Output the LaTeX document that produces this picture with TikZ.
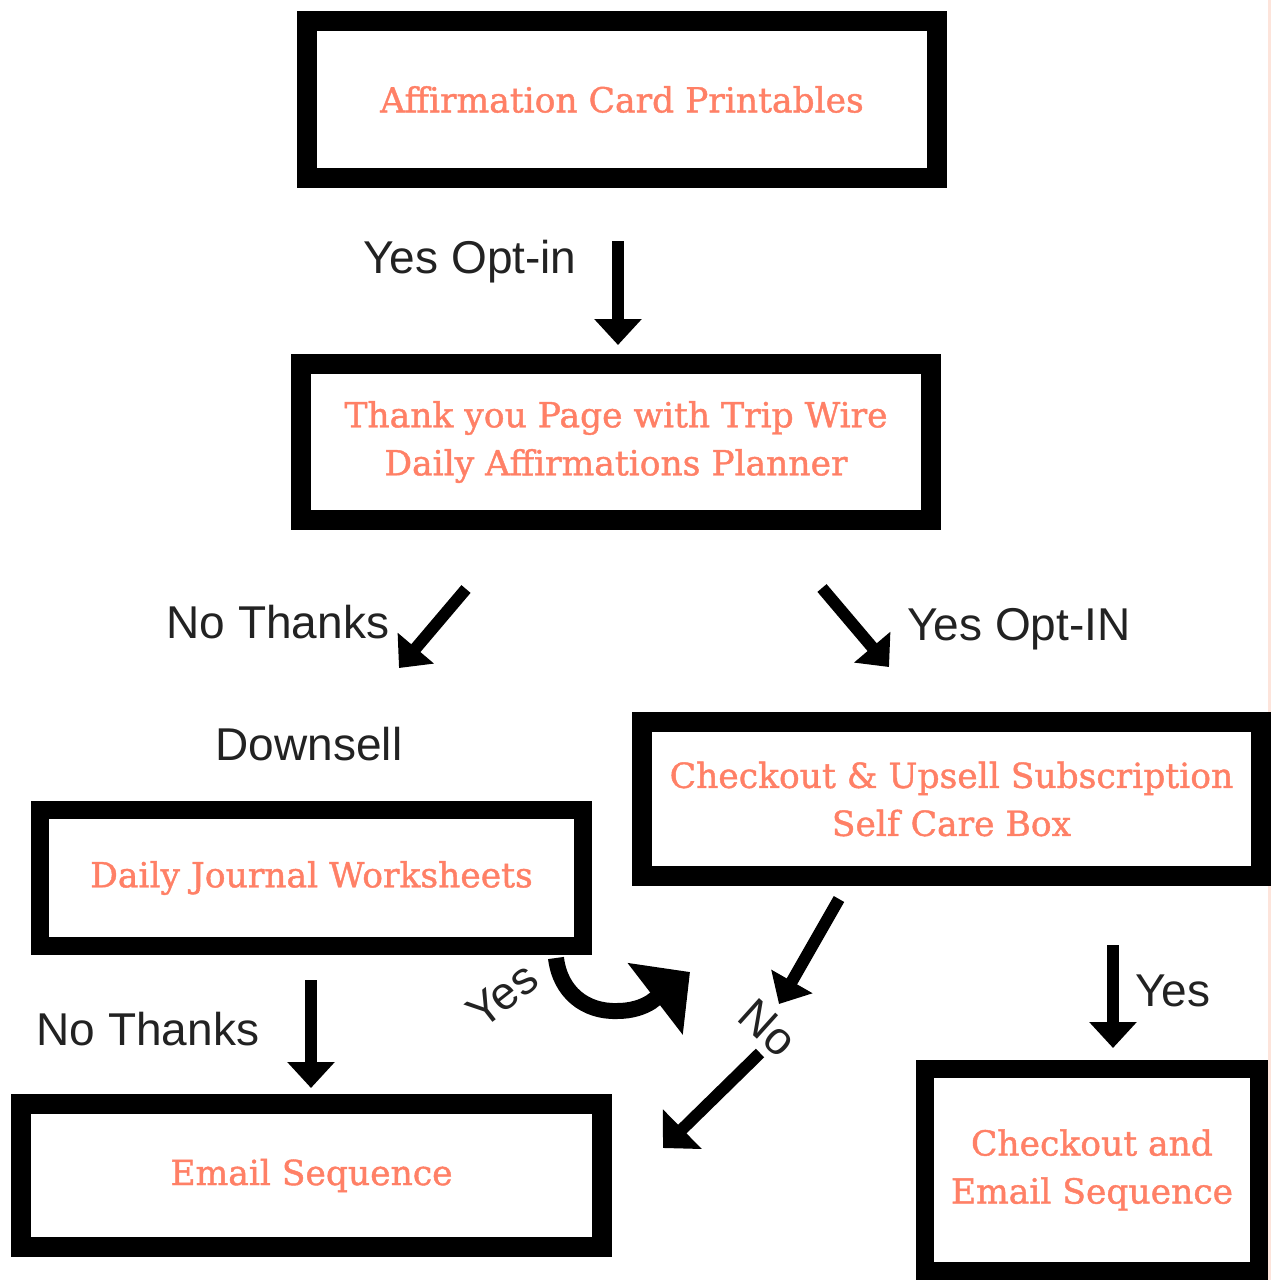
\documentclass[tikz,border=0pt]{standalone}
\usepackage{fontspec}
\setmainfont{DejaVu Serif}
\newfontfamily\boxfont{DejaVu Serif}[FakeBold=1.2]
\newfontfamily\labfont{Liberation Sans}
\usetikzlibrary{arrows.meta}
\definecolor{coral}{RGB}{255,128,102}
\definecolor{ink}{RGB}{34,34,34}
\definecolor{peach}{RGB}{253,228,219}
\begin{document}
\begin{tikzpicture}[x=1pt,y=-1pt,
  box/.style={draw=black, fill=white, inner sep=0pt, align=center, text=coral,
    font=\boxfont\fontsize{34.5}{48}\selectfont},
  lbl/.style={text=ink, font=\labfont\fontsize{46}{46}\selectfont, inner sep=0pt, anchor=base},
  rlbl/.style={text=ink, font=\labfont\fontsize{46}{46}\selectfont, inner sep=0pt, anchor=center},
  arr/.style={line width=12pt, -{Triangle[width=46pt,length=26pt]}},
  bigarr/.style={line width=16pt, -{Triangle[width=88pt,length=44pt]}}
]
\fill[white] (0,0) rectangle (1271,1280);
\useasboundingbox (0,0) rectangle (1271,1280);
\fill[peach] (1268,0) rectangle (1271,1280);

% boxes
\node[box, line width=20pt, minimum width=630pt, minimum height=157pt] (b1) at (622,99.5) {Affirmation Card Printables};
\node[box, line width=20pt, minimum width=630pt, minimum height=156pt] (b2) at (616,442) {Thank you Page with Trip Wire\\Daily Affirmations Planner};
\node[box, line width=20pt, minimum width=619pt, minimum height=154pt] (b3) at (951.5,799) {Checkout \& Upsell Subscription\\Self Care Box};
\node[box, line width=18pt, minimum width=543pt, minimum height=136pt] (b4) at (311.5,878) {Daily Journal Worksheets};
\node[box, line width=20pt, minimum width=581pt, minimum height=143pt] (b5) at (311.5,1175.5) {Email Sequence};
\node[box, line width=18pt, minimum width=334pt, minimum height=202pt] (b6) at (1092,1170) {Checkout and\\Email Sequence};

% labels
\node[lbl] (l1) at (470,273) {Yes Opt-in};
\node[lbl] (l2) at (278,638) {No Thanks};
\node[lbl] (l3) at (1019,640) {Yes Opt-IN};
\node[lbl] (l4) at (309,760) {Downsell};
\node[lbl] (l5) at (148,1045) {No Thanks};
\node[lbl] (l6) at (1173,1006) {Yes};
\node[rlbl, rotate=38] (l7) at (502,995) {Yes};
\node[rlbl, rotate=-42] (l8) at (768,1028) {No};

% arrow end points
\coordinate (a1s) at (618,241);  \coordinate (a1e) at (618,345);
\coordinate (a2s) at (466,589);  \coordinate (a2e) at (399,668);
\coordinate (a3s) at (822,588);  \coordinate (a3e) at (889,667);
\coordinate (a4s) at (839,899);  \coordinate (a4e) at (779,1004);
\coordinate (a5s) at (760,1053); \coordinate (a5e) at (663,1148);
\coordinate (a6s) at (1113,945); \coordinate (a6e) at (1113,1048);
\coordinate (a7s) at (311,980);  \coordinate (a7e) at (311,1088);
\coordinate (cs) at (556,958);   \coordinate (ce) at (690,972);

\draw[arr] (a1s) -- (a1e);
\draw[arr] (a2s) -- (a2e);
\draw[arr] (a3s) -- (a3e);
\draw[arr] (a4s) -- (a4e);
\draw[line width=12pt, -{Triangle[width=54pt,length=27pt]}] (a5s) -- (a5e);
\draw[arr] (a6s) -- (a6e);
\draw[arr] (a7s) -- (a7e);
\draw[bigarr] (cs) .. controls (560,992) and (585,1012) .. (617,1011)
  .. controls (632,1011) and (643,1007) .. (651,1002) -- (ce);
\end{tikzpicture}
\end{document}
